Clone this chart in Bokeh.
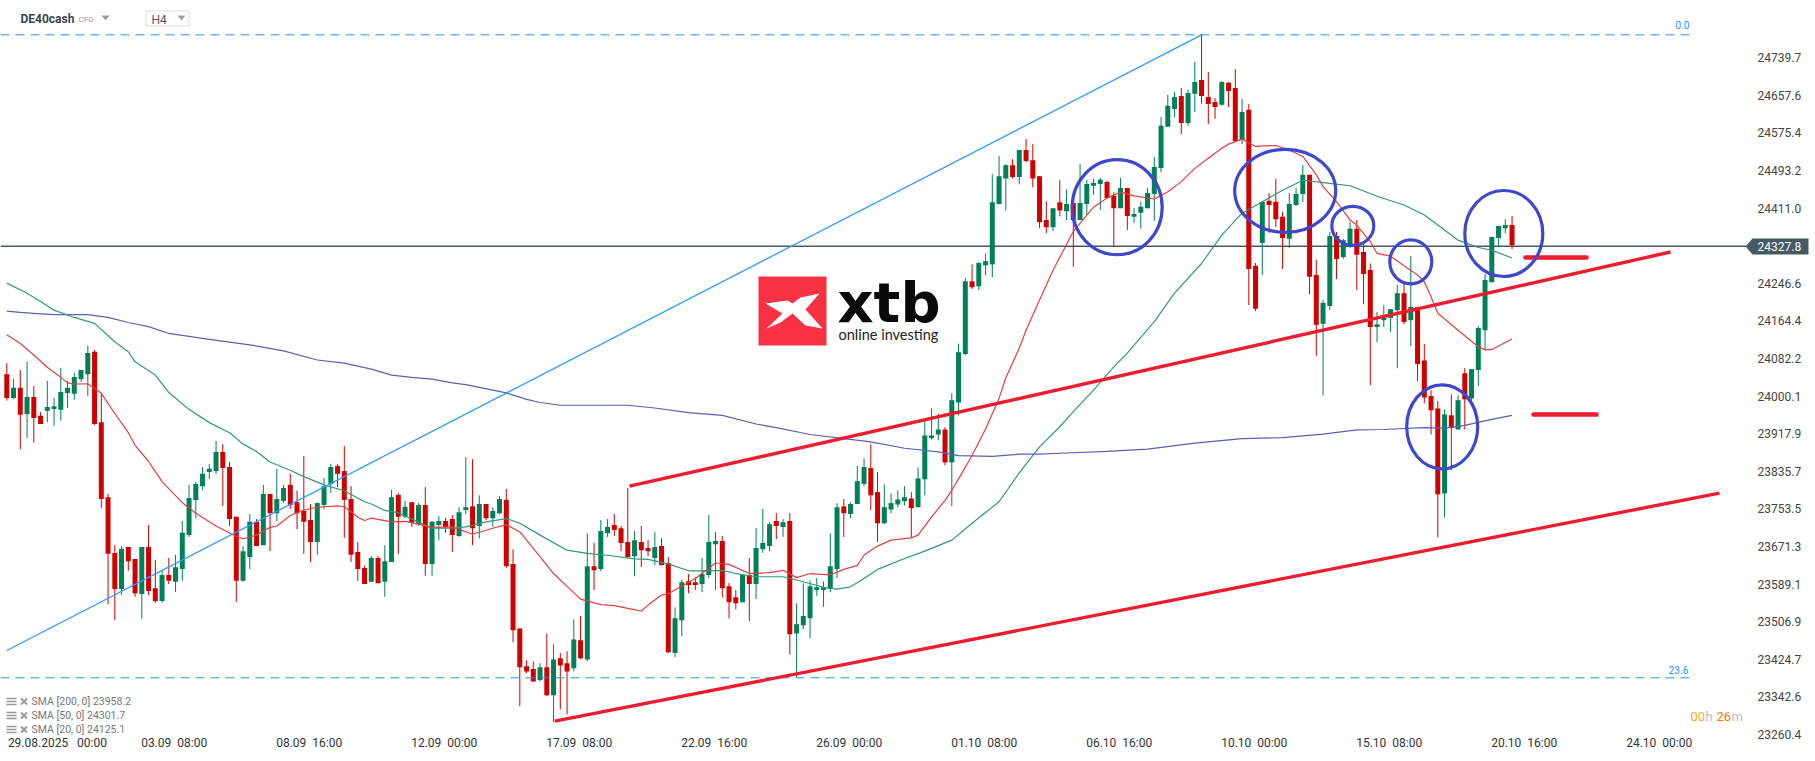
from bokeh.plotting import figure
from bokeh.models import ColumnDataSource, FixedTicker, Range1d
from bokeh.core.properties import value
from bokeh.embed import file_html
from bokeh.resources import INLINE

# ---- OHLC (DE40cash H4)
highs = [24072,24037,24057,24075,24022,23965,24033,23996,24062,24033,
24051,24057,24110,24101,24005,23786,23674,23672,23670,23644,
23670,23718,23642,23620,23646,23653,23727,23806,23812,23845,
23852,23902,23895,23856,23736,23672,23742,23731,23806,23786,
23841,23806,23830,23793,23869,23764,23768,23821,23852,23852,
23891,23803,23681,23629,23650,23650,23674,23795,23788,23771,
23768,23766,23801,23727,23738,23734,23740,23757,23867,23862,
23783,23764,23757,23781,23797,23665,23492,23422,23420,23416,
23481,23457,23438,23442,23512,23519,23700,23679,23729,23731,
23742,23716,23799,23705,23716,23685,23703,23689,23648,23538,
23599,23611,23604,23646,23740,23703,23694,23591,23576,23609,
23646,23711,23753,23724,23744,23731,23744,23547,23591,23597,
23602,23595,23700,23766,23775,23768,23847,23864,23895,23834,
23807,23787,23794,23803,23790,23844,23947,23973,23962,23932,
24006,24115,24258,24288,24293,24312,24485,24525,24507,24518,
24538,24562,24551,24481,24426,24411,24472,24452,24422,24508,
24473,24475,24477,24471,24446,24477,24455,24411,24425,24455,
24523,24610,24659,24665,24674,24670,24731,24791,24709,24652,
24689,24687,24715,24650,24639,24291,24425,24444,24475,24403,
24444,24455,24505,24484,24298,24210,24359,24359,24344,24381,
24385,24332,24290,24184,24199,24190,24243,24252,24306,24195,
24114,24013,23989,23971,24004,24002,24061,24059,24153,24267,
24348,24372,24387,24394]
body_hi = [24048,24018,24018,23998,23998,23957,23976,23978,24009,24018,
24042,24057,24094,24097,23943,23779,23657,23666,23670,23644,
23670,23670,23580,23609,23609,23626,23701,23777,23808,23830,
23841,23878,23878,23845,23736,23661,23725,23725,23786,23786,
23775,23799,23806,23768,23749,23729,23766,23803,23845,23847,
23836,23775,23659,23624,23646,23646,23639,23779,23784,23758,
23768,23762,23762,23725,23727,23727,23731,23746,23757,23759,
23764,23764,23749,23775,23773,23633,23492,23409,23403,23407,
23407,23424,23427,23416,23468,23466,23628,23628,23705,23714,
23718,23711,23681,23685,23681,23668,23670,23672,23635,23514,
23593,23595,23593,23611,23681,23683,23683,23584,23560,23609,
23609,23668,23679,23720,23727,23724,23727,23501,23519,23584,
23582,23582,23628,23757,23759,23764,23814,23845,23843,23790,
23757,23766,23774,23779,23776,23820,23914,23914,23927,23927,
23991,24096,24251,24251,24291,24295,24424,24481,24505,24505,
24538,24538,24516,24481,24385,24411,24424,24420,24422,24422,
24464,24466,24473,24468,24438,24455,24455,24398,24414,24444,
24501,24591,24635,24654,24656,24663,24687,24691,24654,24643,
24687,24685,24674,24621,24626,24285,24425,24427,24425,24392,
24420,24442,24484,24484,24265,24204,24350,24350,24341,24366,
24366,24315,24276,24157,24171,24190,24225,24225,24195,24195,
24078,24000,23973,23960,23958,23991,24050,24059,24149,24254,
24348,24372,24374,24374]
body_lo = [23996,23996,23959,23961,23952,23939,23968,23972,23970,24007,
24005,24037,24048,23939,23775,23655,23578,23578,23639,23569,
23567,23574,23552,23552,23596,23594,23622,23696,23773,23803,
23834,23836,23843,23731,23596,23596,23648,23672,23674,23744,
23744,23771,23762,23744,23725,23681,23681,23762,23808,23830,
23773,23653,23622,23589,23594,23591,23594,23637,23736,23736,
23723,23720,23633,23633,23718,23714,23696,23694,23751,23711,
23716,23733,23733,23744,23628,23488,23407,23398,23376,23379,
23346,23346,23411,23398,23405,23427,23424,23619,23622,23700,
23707,23679,23648,23650,23663,23661,23646,23630,23440,23438,
23510,23587,23587,23589,23609,23676,23580,23549,23547,23549,
23589,23589,23665,23672,23716,23714,23479,23481,23499,23514,
23576,23576,23578,23622,23744,23742,23764,23808,23783,23722,
23722,23752,23763,23770,23755,23757,23818,23908,23916,23855,
23855,23986,24092,24238,24240,24286,24288,24420,24476,24479,
24479,24514,24476,24380,24369,24369,24406,24404,24385,24385,
24420,24460,24464,24433,24411,24411,24394,24392,24401,24411,
24442,24499,24589,24628,24597,24597,24661,24656,24639,24632,
24637,24667,24558,24560,24278,24191,24335,24418,24387,24346,
24344,24418,24442,24261,24156,24158,24197,24300,24304,24331,
24309,24267,24151,24151,24166,24171,24188,24162,24166,24070,
23997,23969,23785,23787,23930,23927,23993,23995,24057,24144,
24249,24346,24367,24330]
lows = [23990,23994,23884,23908,23898,23939,23943,23935,23946,23974,
23992,24031,24000,23937,23755,23545,23510,23565,23618,23561,
23513,23565,23548,23548,23589,23572,23596,23692,23733,23795,
23819,23830,23760,23716,23550,23594,23622,23672,23674,23661,
23727,23766,23753,23709,23655,23637,23653,23753,23788,23801,
23690,23637,23596,23589,23594,23591,23561,23637,23655,23733,
23714,23716,23607,23607,23685,23701,23659,23692,23742,23674,
23689,23729,23714,23742,23624,23462,23322,23394,23376,23376,
23344,23287,23315,23304,23398,23424,23420,23576,23617,23692,
23694,23661,23646,23606,23626,23650,23630,23630,23438,23429,
23475,23569,23576,23571,23602,23576,23560,23514,23534,23549,
23508,23556,23657,23661,23687,23692,23435,23385,23490,23470,
23563,23539,23571,23602,23692,23733,23764,23803,23751,23681,
23720,23744,23757,23761,23690,23757,23783,23905,23903,23849,
23759,23958,24089,24234,24232,24264,24260,24420,24406,24476,
24463,24511,24457,24367,24356,24361,24393,24385,24283,24385,
24396,24440,24407,24433,24326,24411,24363,24379,24366,24411,
24383,24490,24589,24610,24573,24591,24621,24639,24595,24606,
24635,24632,24558,24551,24199,24186,24265,24357,24370,24278,
24324,24416,24425,24223,24088,24002,24188,24256,24300,24324,
24232,24201,24024,24118,24151,24140,24061,24157,24109,24033,
23984,23916,23691,23735,23838,23927,23927,23989,24022,24101,
24249,24326,24356,24321]
direction = ("rgrgrrgggg" "gggrrrrgrr" "grrgrggggg" "ggrrrggrgr" "ggrrrrgggr" "rrrrgrggrg"
             "rgrggrrggr" "grggrrrrrg" "rgrrgrgrgg" "rrrgrrgrrg" "grrgggrrrg" "rgggrgrggg"
             "ggggrgggrr" "ggggrggggr" "gggrgggggr" "grrrrgrgrg" "gggrrgrggg" "ggggrggrrr"
             "grrgrrgrrr" "gggrrggrgg" "rrrggggrgr" "rrrgrgrggg" "gggr")

# ---- moving averages: candle index and level
sma20_idx = [0,2,4,6,8,9,10,12,14,16,18,19,21,23,26,28,31,34,35,37,39,40,42,44,46,49,50,51,52,53,54,57,59,61,63,
66,69,72,74,76,78,81,83,85,88,90,92,94,95,97,98,102,105,107,110,113,115,117,119,122,124,126,127,128,129,131,134,135,137,139,
140,141,143,145,147,148,150,151,153,155,158,161,163,165,167,170,172,174,176,178,180,181,183,185,188,190,192,194,195,197,199,200,
202,203,205,207,209,210,211,212,215,218,219,220,223]
sma20_val = [24134,24115,24090,24063,24041,24029,24026,24027,24006,23962,23920,23893,23857,23813,23767,23744,23716,23693,23688,23696,23713,23716,23739,23751,23757,23760,23758,23747,23735,23728,23733,23725,23726,23720,23713,
23714,23698,23711,23719,23703,23667,23612,23584,23556,23544,23542,23536,23530,23543,23565,23568,23601,23635,23632,23612,23614,23619,23603,23612,23609,23621,23630,23652,23663,23672,23685,23690,23696,23736,23772,
23794,23819,23870,23928,23995,24040,24105,24144,24210,24275,24360,24413,24433,24446,24438,24431,24447,24469,24498,24520,24542,24551,24562,24546,24548,24538,24524,24484,24458,24425,24385,24374,
24338,24312,24306,24285,24265,24250,24217,24181,24144,24108,24101,24102,24125]
sma50_idx = [0,3,5,7,10,13,16,18,19,22,24,27,30,33,35,37,39,42,44,47,50,53,54,56,58,60,63,66,68,71,74,76,79,83,86,89,93,95,98,101,104,106,108,111,115,118,121,123,125,127,129,133,136,140,143,147,150,153,156,158,161,164,166,170,173,177,180,183,186,189,192,195,199,203,207,210,213,215,218,220,223]
sma50_val = [24247,24225,24207,24188,24172,24159,24119,24097,24075,24046,24008,23971,23942,23920,23895,23879,23856,23838,23824,23806,23793,23769,23764,23750,23745,23731,23711,23711,23714,23725,23732,23722,23696,23663,23656,23652,23644,23643,23633,23618,23618,23619,23612,23605,23605,23594,23582,23578,23583,23601,23621,23645,23661,23685,23722,23769,23832,23889,23933,23966,24013,24064,24094,24163,24225,24290,24352,24400,24425,24450,24472,24467,24460,24437,24418,24396,24363,24341,24325,24319,24302]
sma200_idx = [0,2,5,7,12,15,18,21,24,30,36,41,46,50,54,57,60,63,66,68,70,74,77,79,82,92,96,101,106,111,114,119,124,128,133,138,141,146,150,153,156,163,169,176,183,189,195,200,204,210,213,216,220,223]
sma200_val = [24186,24183,24180,24178,24178,24172,24161,24152,24137,24124,24112,24099,24079,24072,24059,24046,24041,24037,24029,24025,24019,24007,23993,23986,23980,23980,23974,23964,23958,23939,23931,23916,23907,23900,23886,23878,23870,23868,23873,23873,23875,23879,23884,23897,23907,23909,23917,23926,23927,23931,23930,23936,23949,23958]

# ---- axis texts
price_ticks = [24739.7,24657.6,24575.4,24493.2,24411.0,24246.6,24164.4,24082.2,24000.1,23917.9,23835.7,23753.5,23671.3,23589.1,23506.9,23424.7,23342.6,23260.4]
date_idx = [0,20,40,60,80,100,120,140,160,180,200,220,240]
date_labels = ["29.08.2025\u00a0\u00a0\u00a000:00","03.09\u00a0\u00a008:00","08.09\u00a0\u00a016:00","12.09\u00a0\u00a000:00","17.09\u00a0\u00a008:00","22.09\u00a0\u00a016:00","26.09\u00a0\u00a000:00","01.10\u00a0\u00a008:00","06.10\u00a0\u00a016:00","10.10\u00a0\u00a000:00","15.10\u00a0\u00a008:00","20.10\u00a0\u00a016:00","24.10\u00a0\u00a000:00"]
last_price = 24327.8
fib_0 = 24790
fib_236 = 23384
sma_legend = ["SMA [200, 0] 23958.2","SMA [50, 0] 24301.7","SMA [20, 0] 24125.1"]

# ---- reference-pixel helpers for drawn overlays
def ix(px): return (px - 6.3) / 6.75
def pv(py): return last_price + (245.7 - py) / 0.4573

RED, GREEN = "#d00000", "#008058"
BLUE_LN, TREND = "#2196f3", "#ed1c2e"
CIRC = "#3f48cc"
F = value("Roboto")

p = figure(width=1815, height=761, frame_width=1815, frame_height=737,
           x_range=Range1d(ix(0), ix(1815)), y_range=Range1d(pv(737), pv(0)),
           y_axis_location="right", toolbar_location=None, output_backend="svg",
           min_border_left=0, min_border_right=0, min_border_top=0, min_border_bottom=24,
           background_fill_color="white", border_fill_color="white")
p.outline_line_color = None
p.grid.visible = False

# axes
ya = p.yaxis[0]
ya.ticker = FixedTicker(ticks=price_ticks)
ya.major_label_overrides = {t: f"{t:.1f}" for t in price_ticks}
ya.axis_line_color = None
ya.major_tick_line_color = None
ya.minor_tick_line_color = None
ya.major_tick_out = 0
ya.major_label_standoff = -58
ya.major_label_text_font = "Roboto"
ya.major_label_text_font_size = "12px"
ya.major_label_text_color = "#444444"

xa = p.xaxis[0]
shift = {0: 7.5}
dt = [d + shift.get(d, 4.8) for d in date_idx]
xa.ticker = FixedTicker(ticks=dt)
xa.major_label_overrides = dict(zip(dt, date_labels))
xa.axis_line_color = None
xa.major_tick_line_color = None
xa.minor_tick_line_color = None
xa.major_label_standoff = -8
xa.major_label_text_font = "Roboto"
xa.major_label_text_font_size = "12px"
xa.major_label_text_color = "#333333"

# logo
p.quad(left=[ix(758)], right=[ix(826)], top=[pv(276)], bottom=[pv(345)], fill_color="#f93243", line_color=None)
star_x = [819,800,792,787,765,782,766,780,792,805,822,805]
star_y = [293,297,303,300,303,313,328,322,313,325,328,309]
p.patch([ix(v) for v in star_x], [pv(v) for v in star_y], fill_color="white", line_color=None)
p.text([ix(837)], [pv(302)], text=["xtb"], text_font=value("DejaVu Sans"), text_font_style="bold",
       text_font_size="56px", text_color="#0a0a0a", text_baseline="alphabetic", text_align="left")
p.text([ix(838)], [pv(334)], text=["online investing"], text_font=value("Lato"),
       text_font_size="14.5px", text_color="#222222", text_baseline="middle", text_align="left")

# last price line
p.line([ix(0), ix(1746)], [last_price, last_price], line_color="#455a64", line_width=1.5)

# candles
n = len(highs)
colors = [RED if c == "r" else GREEN for c in direction]
src = ColumnDataSource(dict(x=list(range(n)), h=highs, l=lows, t=body_hi, b=body_lo, c=colors))
p.segment("x", "h", "x", "l", source=src, line_color="c", line_width=1)
p.vbar("x", 0.74, "t", "b", source=src, fill_color="c", line_color=None)

# moving averages
p.line(sma200_idx, sma200_val, line_color="#5a60b5", line_width=1.2)
p.line(sma50_idx, sma50_val, line_color="#2f9a78", line_width=1.2)
p.line(sma20_idx, sma20_val, line_color="#e2403f", line_width=1.2)

# Fibonacci
for lvl, xe in ((fib_0, 1694), (fib_236, 1694)):
    p.line([ix(0), ix(xe)], [lvl, lvl], line_color=BLUE_LN, line_width=1, line_dash="9 6")
p.line([0, 177], [pv(650), fib_0], line_color="#2f9dff", line_width=1.3)
p.text([ix(1682)], [pv(24.5)], text=["0.0"], text_font=F, text_font_size="10px", text_color=BLUE_LN,
       text_baseline="middle", text_align="center")
p.text([ix(1678)], [pv(669)], text=["23.6"], text_font=F, text_font_size="10px", text_color=BLUE_LN,
       text_baseline="middle", text_align="center")

# trend lines
p.line([ix(629), ix(1670)], [pv(485.7), pv(251.5)], line_color=TREND, line_width=3.4)
p.line([ix(554.3), ix(1719)], [pv(720.7), pv(492.6)], line_color=TREND, line_width=3.4)
p.line([ix(1525), ix(1586)], [pv(257), pv(257)], line_color=TREND, line_width=4.5, line_cap="round")
p.line([ix(1533), ix(1596)], [pv(414), pv(414)], line_color=TREND, line_width=4.5, line_cap="round")

# circled areas
circ_x = [1116.7, 1284.7, 1352.3, 1410.3, 1503.3, 1441.7]
circ_y = [206.7, 190.3, 225.3, 261.3, 233.0, 426.3]
circ_w = [90, 101, 42, 42, 78, 71]
circ_h = [95, 83, 39, 44, 86, 84]
p.ellipse([ix(v) for v in circ_x], [pv(v) for v in circ_y], width=circ_w, height=circ_h,
          width_units="screen", height_units="screen",
          fill_color=None, line_color=CIRC, line_width=3.2)

# header
p.text([ix(20)], [pv(18)], text=["DE40cash"], text_font=F, text_font_style="bold", text_font_size="12px",
       text_color="#37474f", text_baseline="middle", text_align="left")
p.text([ix(78)], [pv(19)], text=["CFD"], text_font=F, text_font_size="8px", text_color="#9e9e9e",
       text_baseline="middle", text_align="left")
p.patch([ix(101), ix(109), ix(105)], [pv(15), pv(15), pv(20)], fill_color="#9e9e9e", line_color=None)
p.quad(left=[ix(145.5)], right=[ix(188.5)], top=[pv(10.5)], bottom=[pv(25.5)], fill_color="white", line_color="#dddddd")
p.text([ix(151)], [pv(19)], text=["H4"], text_font=F, text_font_size="12px", text_color="#555555",
       text_baseline="middle", text_align="left")
p.patch([ix(177), ix(185), ix(181)], [pv(15), pv(15), pv(20)], fill_color="#9e9e9e", line_color=None)

# indicator legend
for i, t in enumerate(sma_legend):
    y0 = 701 + i * 14
    p.text([ix(31)], [pv(y0)], text=[t], text_font=F, text_font_size="10.5px", text_color="#777777",
           text_baseline="middle", text_align="left")
    for d in (-3, 0, 3):
        p.line([ix(6), ix(16)], [pv(y0 + d), pv(y0 + d)], line_color="#9a9a9a", line_width=1.5)
    p.line([ix(20.5), ix(26.5)], [pv(y0 - 3), pv(y0 + 3)], line_color="#9a9a9a", line_width=2)
    p.line([ix(20.5), ix(26.5)], [pv(y0 + 3), pv(y0 - 3)], line_color="#9a9a9a", line_width=2)

# countdown
for xpos, txt, col in ((1690, "00", "#f9a825"), (1705, "h", "#bdbdbd"), (1716, "26", "#f57c00"), (1731, "m", "#bdbdbd")):
    p.text([ix(xpos)], [pv(716)], text=[txt], text_font=F, text_font_size="13px", text_color=col,
           text_baseline="middle", text_align="left")

# last price tag
tag_x = [1745, 1752, 1808, 1808, 1752]
tag_y = [246, 238, 238, 254, 254]
p.patch([ix(v) for v in tag_x], [pv(v) for v in tag_y], fill_color="#455a64", line_color=None, level="overlay")
p.text([ix(1757)], [last_price], text=[f"{last_price:.1f}"], text_font=F, text_font_size="12px",
       text_color="white", text_baseline="middle", text_align="left", level="overlay")

open("out.html", "w").write(file_html(p, INLINE))
